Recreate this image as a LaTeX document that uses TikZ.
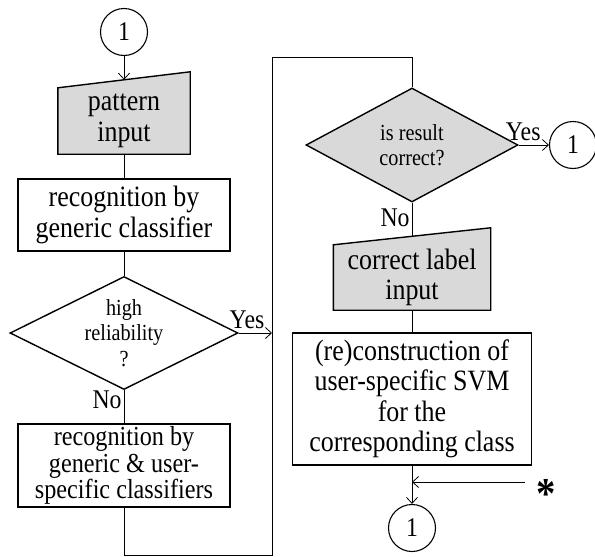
\documentclass[tikz,border=0pt]{standalone}
\usepackage{fontspec}
\setmainfont{Liberation Serif}[FakeStretch=0.88]
\usetikzlibrary{shapes.geometric,arrows.meta,calc,backgrounds}

\newcommand{\boxfont}{\fontsize{29.5}{30.5}\selectfont}
\newcommand{\smallboxfont}{\fontsize{27.5}{26.5}\selectfont}
\newcommand{\decfont}{\fontsize{23}{25.5}\selectfont}
\newcommand{\tagfont}{\fontsize{27}{26}\selectfont}

\tikzset{
  procbox/.style={draw, line width=1.4pt, align=center, font=\boxfont, inner sep=0pt},
  inputbox/.style={align=center, font=\boxfont, inner sep=0pt},
  inputshape/.style={draw, fill=gray!30, line width=1.4pt, line join=miter},
  decision/.style={diamond, draw, line width=1.4pt, align=center, font=\decfont, inner sep=0pt, aspect=2},
  connector/.style={circle, draw, line width=1.1pt, minimum size=47pt, inner sep=0pt, font=\tagfont},
  flow/.style={line width=0.8pt},
  flowarrow/.style={flow, -{Straight Barb[length=6pt,width=11pt]}},
  tag/.style={font=\tagfont, inner sep=0pt},
}

\begin{document}
\begin{tikzpicture}[x=1pt, y=-1pt]
\useasboundingbox (0,0) rectangle (595,557);

% left column
\node[connector] (top) at (124,32) {1};
\node[inputbox, minimum width=132pt, minimum height=66pt] (pin) at (124,121) {pattern\\input};
\node[procbox, minimum width=212pt, minimum height=72pt] (gc) at (124,215) {recognition by\\generic classifier};
\node[decision, minimum width=228pt, minimum height=113pt] (hr) at (124,333) {high\\reliability\\?};
\node[procbox, font=\smallboxfont, minimum width=212pt, minimum height=83pt] (gu) at (124,465.5) {recognition by\\generic \& user-\\specific classifiers};

% right column
\node[decision, fill=gray!30, minimum width=212pt, minimum height=114pt] (rc) at (412,145) {is result\\correct?};
\node[connector] (yes) at (573,145) {1};
\node[inputbox, minimum width=157pt, minimum height=65pt] (cl) at (412,277.5) {correct label\\input};
\node[procbox, minimum width=239pt, minimum height=132pt] (rs) at (412,399) {(re)construction of\\user-specific SVM\\for the\\corresponding class};
\node[connector] (bot) at (412,528) {1};
\node[font=\fontsize{44}{44}\selectfont\bfseries, inner sep=0pt] (star) at (546,494) {*};

% manual input shapes
\begin{pgfonlayer}{background}
\filldraw[inputshape] (pin.south west) -- (pin.south east) -- ($(pin.north east)+(0,-16)$) -- (pin.north west) -- cycle;
\filldraw[inputshape] (cl.south west) -- (cl.south east) -- ($(cl.north east)+(0,-17)$) -- (cl.north west) -- cycle;
\end{pgfonlayer}

% loop from the left column to the right one
\coordinate (lp1) at (124,555);
\coordinate (lp2) at (272,555);
\coordinate (lp3) at (272,57);
\coordinate (lp4) at (412,57);
\coordinate (hrend) at (272,333);
\coordinate (starend) at (525,482);
\coordinate (joint) at (412,482);

\draw[flowarrow] (top) -- ($(pin.north)+(0,-8)$);
\draw[flow] (pin) -- (gc);
\draw[flow] (gc) -- (hr);
\draw[flow] (hr) -- (gu) node[pos=0.3, left=2pt, tag] {No};
\draw[flowarrow] (hr.east) -- (hrend) node[pos=0.25, above=4pt, tag] {Yes};
\draw[flow] (gu) -- (lp1) -- (lp2) -- (lp3) -- (lp4) -- (rc);

\draw[flowarrow] (rc.east) -- (yes) node[pos=0.15, above=4pt, tag] {Yes};
\draw[flow] (rc) -- ($(cl.north)+(0,-8.5)$) node[pos=0.45, left=2pt, tag] {No};
\draw[flow] (cl) -- (rs);
\draw[flowarrow] (rs) -- (bot);
\draw[flowarrow] (starend) -- (joint);
\end{tikzpicture}
\end{document}
